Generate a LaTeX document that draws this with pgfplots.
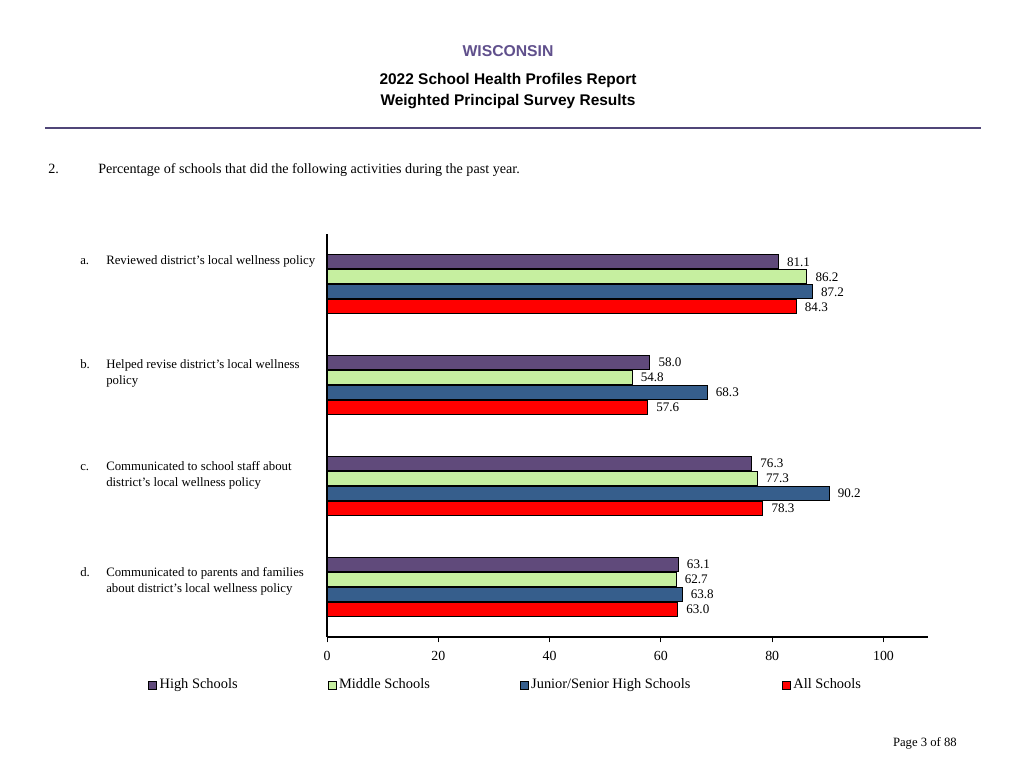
\documentclass[border=0pt]{standalone}
\usepackage{fontspec}
\setmainfont{Liberation Serif}
\newfontfamily\hsans{Liberation Sans}
\usepackage{pgfplots}
\pgfplotsset{compat=1.18}
\definecolor{hsc}{RGB}{96,74,123}
\definecolor{msc}{RGB}{198,239,160}
\definecolor{jsc}{RGB}{54,94,140}
\definecolor{asc}{RGB}{255,0,0}
\definecolor{titlepurple}{RGB}{96,80,140}
\definecolor{rulepurple}{RGB}{80,70,120}
\begin{document}
\begin{tikzpicture}[x=0.75pt,y=0.75pt]
\path[use as bounding box] (0,0) rectangle (1024,768);
\coordinate (axo) at (327,131);
% header
\node[font=\hsans\bfseries\fontsize{11.8}{14}\selectfont, text=titlepurple] at (508,717) {WISCONSIN};
\node[font=\hsans\bfseries\fontsize{11.6}{14}\selectfont] at (508,687) {2022 School Health Profiles Report};
\node[font=\hsans\bfseries\fontsize{11.6}{14}\selectfont] at (508,666) {Weighted Principal Survey Results};
\draw[rulepurple, line width=1.5pt] (45,640) -- (981,640);
\node[font=\fontsize{10.6}{12}\selectfont, anchor=base west, inner sep=0pt] at (48,594) {2.};
\node[font=\fontsize{10.6}{12}\selectfont, anchor=base west, inner sep=0pt] at (98,594) {Percentage of schools that did the following activities during the past year.};
% category labels
\begin{scope}[every node/.style={font=\fontsize{9.6}{12}\selectfont, anchor=base west, inner sep=0pt}]
\node at (80,503) {a.};
\node at (106,503) {Reviewed district’s local wellness policy};
\node at (80,399) {b.};
\node at (106,399) {Helped revise district’s local wellness};
\node at (106,383) {policy};
\node at (80,297) {c.};
\node at (106,297) {Communicated to school staff about};
\node at (106,281) {district’s local wellness policy};
\node at (80,192) {d.};
\node at (106,192) {Communicated to parents and families};
\node at (106,176) {about district’s local wellness policy};
\end{scope}
\node[font=\fontsize{9.5}{11}\selectfont, anchor=base east, inner sep=0pt] at (957,22) {Page 3 of 88};
\begin{axis}[
  at={(axo)}, anchor=south west,
  scale only axis, width=450.75pt, height=302.25pt,
  xmin=0, xmax=108, ymin=-0.5, ymax=3.5,
  axis x line=bottom, axis y line=left,
  axis line style={-, line width=0.8pt},
  xtick={0,20,40,60,80,100}, xtick align=outside,
  major tick length=4pt,
  ytick=\empty,
  tick style={black, line width=0.6pt},
  /pgf/number format/assume math mode=true,
  xticklabel style={font=\fontsize{10.4}{12}\selectfont, yshift=-3.5pt},
  xbar, bar width=10.5pt,
  every axis plot/.append style={draw=black, line width=0.6pt},
  nodes near coords,
  point meta=x,
  nodes near coords style={font=\fontsize{9.8}{11}\selectfont, anchor=west, xshift=3pt,
    /pgf/number format/.cd, fixed, fixed zerofill, precision=1},
  legend columns=4,
  legend style={at={(-0.298,-0.119)}, anchor=west, draw=none, fill=none,
    font=\fontsize{10.8}{12}\selectfont, inner sep=0pt, column sep=0pt,
    /tikz/every even column/.append style={column sep=0pt}},
  legend image code/.code={\draw[#1, line width=0.6pt] (0pt,-3pt) rectangle (6pt,3pt);},
  clip=false,
]
\addplot[fill=hsc, bar shift=16.875pt] coordinates {(81.1,3) (58.0,2) (76.3,1) (63.1,0)};
\addlegendentry{\makebox[124pt][l]{High Schools}}
\addplot[fill=msc, bar shift=5.625pt] coordinates {(86.2,3) (54.8,2) (77.3,1) (62.7,0)};
\addlegendentry{\makebox[133.5pt][l]{Middle Schools}}
\addplot[fill=jsc, bar shift=-5.625pt] coordinates {(87.2,3) (68.3,2) (90.2,1) (63.8,0)};
\addlegendentry{\makebox[186pt][l]{Junior/Senior High Schools}}
\addplot[fill=asc, bar shift=-16.875pt] coordinates {(84.3,3) (57.6,2) (78.3,1) (63.0,0)};
\addlegendentry{All Schools}
\end{axis}
\end{tikzpicture}
\end{document}
